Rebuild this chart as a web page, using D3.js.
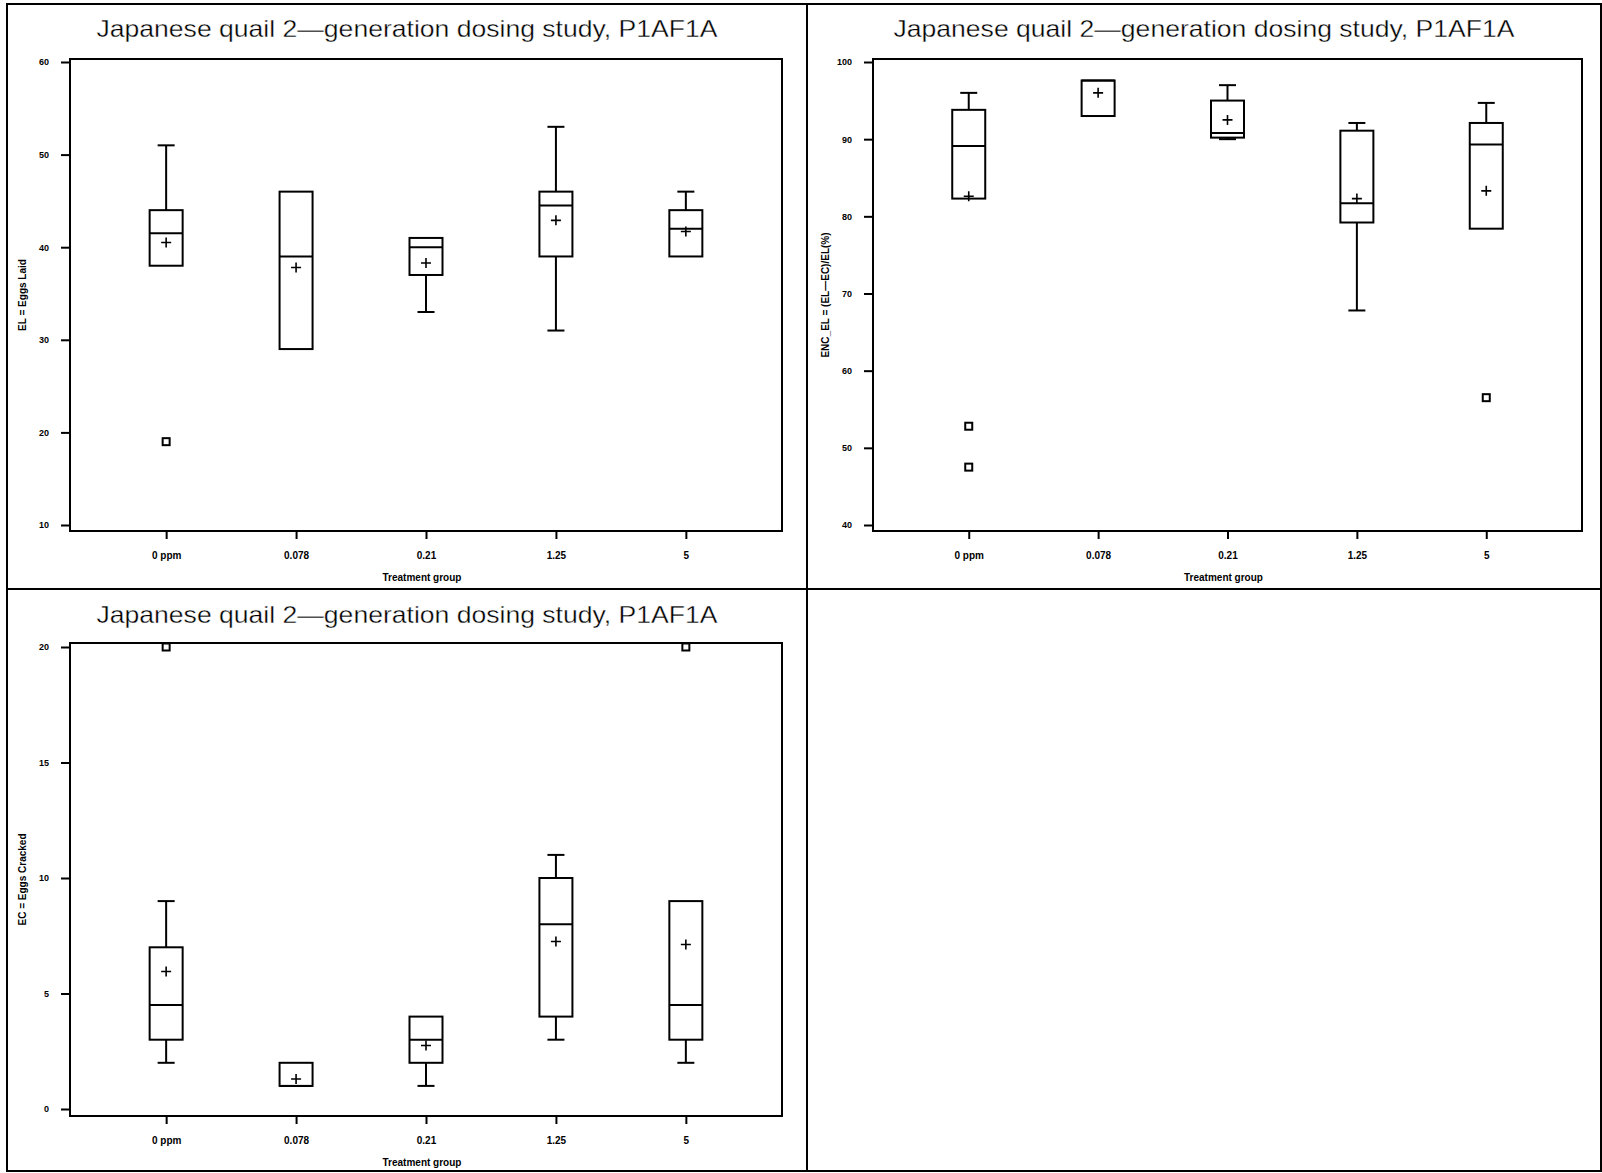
<!DOCTYPE html>
<html>
<head>
<meta charset="utf-8">
<script src="https://cdn.jsdelivr.net/npm/d3@7"></script>
<style>
  html, body { margin: 0; padding: 0; background: #fff; }
  svg { display: block; }
  .tick text { font-family: "Liberation Sans", Arial, sans-serif; font-weight: bold; }
</style>
</head>
<body>
<svg id="chart" width="1602" height="1173"></svg>
<script>
// Treatment groups shared by all three panels
const categories = ["0 ppm", "0.078", "0.21", "1.25", "5"];
const titleText = "Japanese quail 2\u2014generation dosing study, P1AF1A";
const xTitle = "Treatment group";

// EL = Eggs Laid: five-number summaries, means and outliers per group
const elLow    = [38, 29, 33, 31, 39];
const elQ1     = [38, 29, 37, 39, 39];
const elMedian = [41.5, 39, 40, 44.5, 42];
const elQ3     = [44, 46, 41, 46, 44];
const elHigh   = [51, 46, 41, 53, 46];
const elMean   = [40.5, 37.8, 38.3, 42.9, 41.7];
const elOut    = [[19], [], [], [], []];
const elTicks  = [10, 20, 30, 40, 50, 60];

// ENC_EL = (EL-EC)/EL (%)
const encLow    = [82.3, 93, 90, 67.8, 78.4];
const encQ1     = [82.3, 93, 90.2, 79.2, 78.4];
const encMedian = [89.1, 97.6, 90.8, 81.7, 89.3];
const encQ3     = [93.8, 97.6, 95, 91.1, 92.1];
const encHigh   = [96, 97.6, 97, 92.1, 94.7];
const encMean   = [82.6, 96, 92.5, 82.3, 83.3];
const encOut    = [[52.8, 47.5], [], [], [], [56.5]];
const encTicks  = [40, 50, 60, 70, 80, 90, 100];

// EC = Eggs Cracked
const ecLow    = [2, 1, 1, 3, 2];
const ecQ1     = [3, 1, 2, 4, 3];
const ecMedian = [4.5, 1, 3, 8, 4.5];
const ecQ3     = [7, 2, 4, 10, 9];
const ecHigh   = [9, 2, 4, 11, 9];
const ecMean   = [5.95, 1.3, 2.75, 7.25, 7.12];
const ecOut    = [[20], [], [], [], [20]];
const ecTicks  = [0, 5, 10, 15, 20];

const FONT = '"Liberation Sans", Arial, sans-serif';
const svg = d3.select("#chart");

// outer page frame and dividers between panels
svg.append("rect").attr("x", 7).attr("y", 4).attr("width", 1594).attr("height", 1167)
  .attr("fill", "none").attr("stroke", "#000").attr("stroke-width", 2);
svg.append("line").attr("x1", 807).attr("x2", 807).attr("y1", 4).attr("y2", 1171)
  .attr("stroke", "#000").attr("stroke-width", 2);
svg.append("line").attr("x1", 7).attr("x2", 1601).attr("y1", 589).attr("y2", 589)
  .attr("stroke", "#000").attr("stroke-width", 2);

function build(low, q1, med, q3, high, mean, out) {
  return categories.map((c, i) => ({
    cat: c, low: low[i], q1: q1[i], med: med[i], q3: q3[i], high: high[i],
    mean: mean[i], out: out[i]
  }));
}

const panels = [
  { left: 70, right: 782, top: 59, bottom: 531, padTop: 3, padBottom: 6,
    cellLeft: 7, cellRight: 807, titleY: 37, yLabelX: 23,
    domain: [10, 60], ticks: elTicks, yLabel: "EL = Eggs Laid",
    data: build(elLow, elQ1, elMedian, elQ3, elHigh, elMean, elOut) },
  { left: 873, right: 1582, top: 59, bottom: 531, padTop: 3, padBottom: 6,
    cellLeft: 807, cellRight: 1601, titleY: 37, yLabelX: 826,
    domain: [40, 100], ticks: encTicks, yLabel: "ENC_EL = (EL\u2014EC)/EL(%)",
    data: build(encLow, encQ1, encMedian, encQ3, encHigh, encMean, encOut) },
  { left: 70, right: 782, top: 643, bottom: 1116, padTop: 4, padBottom: 7,
    cellLeft: 7, cellRight: 807, titleY: 623, yLabelX: 23,
    domain: [0, 20], ticks: ecTicks, yLabel: "EC = Eggs Cracked",
    data: build(ecLow, ecQ1, ecMedian, ecQ3, ecHigh, ecMean, ecOut) }
];

panels.forEach(p => {
  const g = svg.append("g");
  const step = (p.right - p.left) / (categories.length + 0.48);
  const x = d3.scalePoint().domain(categories)
    .range([p.left + 0.74 * step, p.right - 0.74 * step]);
  const y = d3.scaleLinear().domain(p.domain)
    .range([p.bottom - p.padBottom, p.top + p.padTop]);

  // title, drawn with a slightly thinned stroke
  g.append("text")
    .attr("x", (p.cellLeft + p.cellRight) / 2).attr("y", p.titleY)
    .attr("text-anchor", "middle")
    .attr("font-family", FONT).attr("font-size", 24)
    .attr("fill", "#000").attr("stroke", "#fff").attr("stroke-width", 0.35)
    .attr("textLength", 621).attr("lengthAdjust", "spacingAndGlyphs")
    .text(titleText);

  // plot frame
  g.append("rect").attr("x", p.left).attr("y", p.top)
    .attr("width", p.right - p.left).attr("height", p.bottom - p.top)
    .attr("fill", "none").attr("stroke", "#000").attr("stroke-width", 2);

  // y axis
  const yAxis = d3.axisLeft(y).tickValues(p.ticks).tickSize(9).tickPadding(12)
    .tickFormat(d3.format("d"));
  const ya = g.append("g").attr("transform", `translate(${p.left},0)`).call(yAxis);
  ya.select(".domain").remove();
  ya.selectAll(".tick line").attr("stroke-width", 2);
  ya.selectAll(".tick text").attr("font-size", 9);

  // x axis
  const xAxis = d3.axisBottom(x).tickSize(8).tickPadding(13);
  const xa = g.append("g").attr("transform", `translate(0,${p.bottom})`).call(xAxis);
  xa.select(".domain").remove();
  xa.selectAll(".tick line").attr("stroke-width", 2);
  xa.selectAll(".tick text").attr("font-size", 10);

  // axis titles
  g.append("text")
    .attr("x", (p.left + p.right) / 2 - 4).attr("y", p.bottom + 50)
    .attr("text-anchor", "middle").attr("font-family", FONT)
    .attr("font-weight", "bold").attr("font-size", 10)
    .text(xTitle);
  g.append("text")
    .attr("transform", `translate(${p.yLabelX},${(p.top + p.bottom) / 2}) rotate(-90)`)
    .attr("text-anchor", "middle").attr("dominant-baseline", "middle")
    .attr("font-family", FONT).attr("font-weight", "bold").attr("font-size", 10)
    .text(p.yLabel);

  const boxW = 33, capW = 17;
  const box = g.selectAll(".box").data(p.data).enter().append("g")
    .attr("class", "box")
    .attr("fill", "none").attr("stroke", "#000").attr("stroke-width", 2);

  // whiskers and caps
  box.filter(d => d.high > d.q3).append("line")
    .attr("x1", d => x(d.cat)).attr("x2", d => x(d.cat))
    .attr("y1", d => y(d.q3)).attr("y2", d => y(d.high));
  box.filter(d => d.high > d.q3).append("line")
    .attr("x1", d => x(d.cat) - capW / 2).attr("x2", d => x(d.cat) + capW / 2)
    .attr("y1", d => y(d.high)).attr("y2", d => y(d.high));
  box.filter(d => d.low < d.q1).append("line")
    .attr("x1", d => x(d.cat)).attr("x2", d => x(d.cat))
    .attr("y1", d => y(d.q1)).attr("y2", d => y(d.low));
  box.filter(d => d.low < d.q1).append("line")
    .attr("x1", d => x(d.cat) - capW / 2).attr("x2", d => x(d.cat) + capW / 2)
    .attr("y1", d => y(d.low)).attr("y2", d => y(d.low));

  // box and median
  box.append("rect")
    .attr("x", d => x(d.cat) - boxW / 2).attr("width", boxW)
    .attr("y", d => y(d.q3)).attr("height", d => Math.max(0, y(d.q1) - y(d.q3)));
  box.append("line")
    .attr("x1", d => x(d.cat) - boxW / 2).attr("x2", d => x(d.cat) + boxW / 2)
    .attr("y1", d => y(d.med)).attr("y2", d => y(d.med));

  // mean marker
  box.append("path")
    .attr("stroke-width", 1.6)
    .attr("d", d => {
      const cx = x(d.cat), cy = y(d.mean);
      return `M${cx - 5},${cy}H${cx + 5}M${cx},${cy - 5}V${cy + 5}`;
    });

  // outliers
  box.selectAll(".out").data(d => d.out.map(v => ({ cat: d.cat, v }))).enter()
    .append("rect").attr("class", "out")
    .attr("x", d => x(d.cat) - 3.5).attr("y", d => y(d.v) - 3.5)
    .attr("width", 7).attr("height", 7);
});
</script>
</body>
</html>
